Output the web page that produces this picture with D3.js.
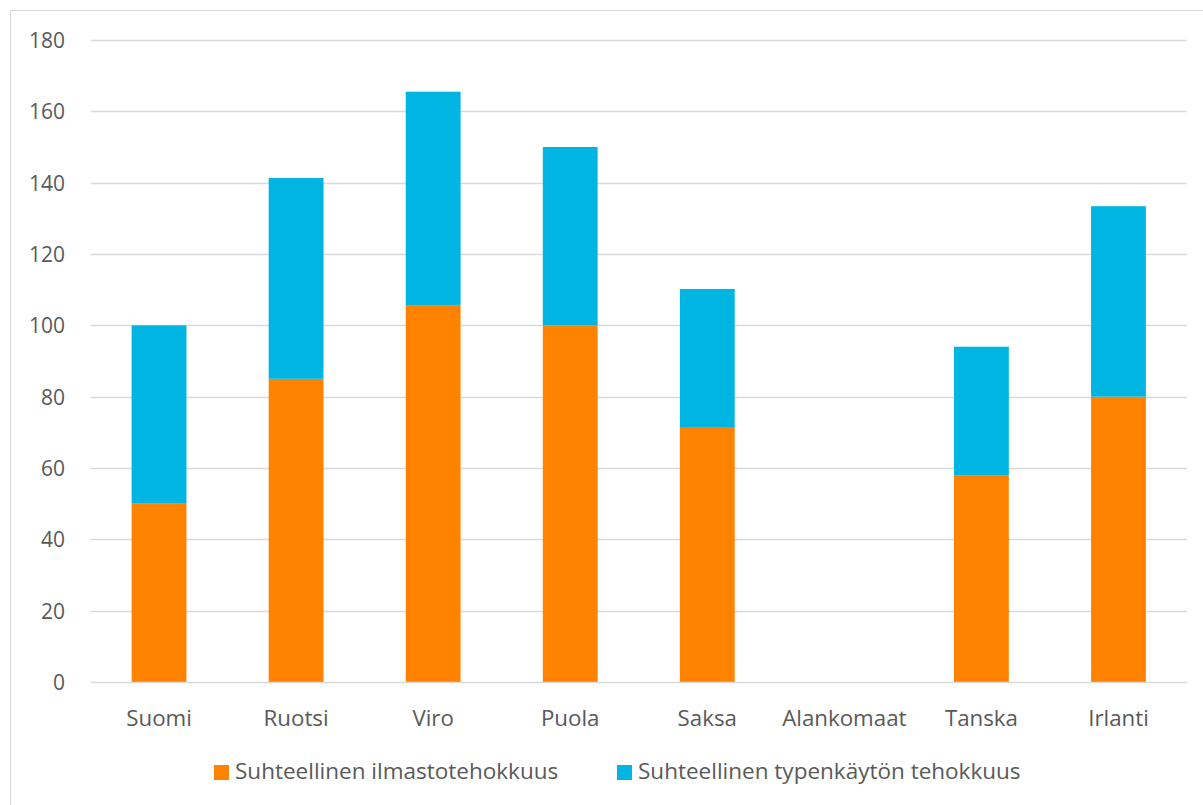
<!DOCTYPE html>
<html><head><meta charset="utf-8">
<script src="https://cdn.jsdelivr.net/npm/d3@7"></script>
<style>
html,body{margin:0;padding:0;background:#fff;}
svg{display:block;}
svg text{font-family:"Open Sans","Noto Sans",sans-serif;}
</style></head>
<body>
<svg id="chart" width="1203" height="805"></svg>
<script>
const categories = ["Suomi","Ruotsi","Viro","Puola","Saksa","Alankomaat","Tanska","Irlanti"];
const seriesNames = ["Suhteellinen ilmastotehokkuus","Suhteellinen typenkäytön tehokkuus"];
const ilmasto = [50, 85, 105.5, 100, 71.5, 0, 58, 80];
const typpi = [50, 56.3, 60, 50, 38.7, 0, 36, 53.4];
const yTicks = [0,20,40,60,80,100,120,140,160,180];
const colors = ["#ff8300","#00b5e2"];
const FONT = '"Open Sans","Noto Sans",sans-serif';

const svg = d3.select("#chart");
// outer border
svg.append("rect").attr("x",10.5).attr("y",10.5).attr("width",1203).attr("height",805)
  .attr("fill","none").attr("stroke","#d9d9d9").attr("stroke-width",1);

const m = {left:90.5, right:1187, top:40, bottom:682};
const x = d3.scaleBand().domain(categories).range([m.left,m.right]).paddingInner(0.6).paddingOuter(0.3);
const y = d3.scaleLinear().domain([0,180]).range([m.bottom,m.top]);

// gridlines
svg.append("g").selectAll("line").data(yTicks.filter(d=>d>0)).join("line")
  .attr("x1",m.left).attr("x2",m.right)
  .attr("y1",d=>Math.round(y(d))+0.5).attr("y2",d=>Math.round(y(d))+0.5)
  .attr("stroke","#d9d9d9").attr("stroke-width",1.3);

// y axis labels
const yAxis = d3.axisLeft(y).tickValues(yTicks).tickSize(0).tickPadding(0);
const yg = svg.append("g").attr("transform",`translate(65,0)`).call(yAxis)
  .attr("font-family",FONT).attr("font-size",21);
yg.select(".domain").remove();
yg.selectAll("text").attr("fill","#595959").style("font-size","21px").attr("dy","0.36em");

// stacked bars
const data = categories.map((c,i)=>({cat:c, a:ilmasto[i], b:typpi[i]}));
const stack = d3.stack().keys(["a","b"])(data);
svg.append("g").selectAll("g").data(stack).join("g")
  .attr("fill",(d,i)=>colors[i])
  .selectAll("rect").data(d=>d).join("rect")
  .attr("x",d=>x(d.data.cat))
  .attr("width",x.bandwidth())
  .attr("y",d=>y(d[1]))
  .attr("height",d=>Math.max(0,y(d[0])-y(d[1])));

// x axis
const xAxis = d3.axisBottom(x).tickSize(0).tickPadding(0);
const xg = svg.append("g").attr("transform",`translate(0,${m.bottom})`).call(xAxis)
  .attr("font-family",FONT).attr("font-size",22);
xg.select(".domain").attr("stroke","#d9d9d9").attr("stroke-width",1.3);
xg.selectAll("text").attr("fill","#595959").style("font-size","22.3px").attr("y",44).attr("dy",0);

// legend
const legX = [214, 617];
const lg = svg.append("g").selectAll("g").data(seriesNames).join("g")
  .attr("transform",(d,i)=>`translate(${legX[i]},765)`);
lg.append("rect").attr("width",15).attr("height",15).attr("fill",(d,i)=>colors[i]);
lg.append("text").attr("x",21).attr("y",14).text(d=>d)
  .attr("fill","#595959").style("font-size","22.5px");
</script>
</body></html>
